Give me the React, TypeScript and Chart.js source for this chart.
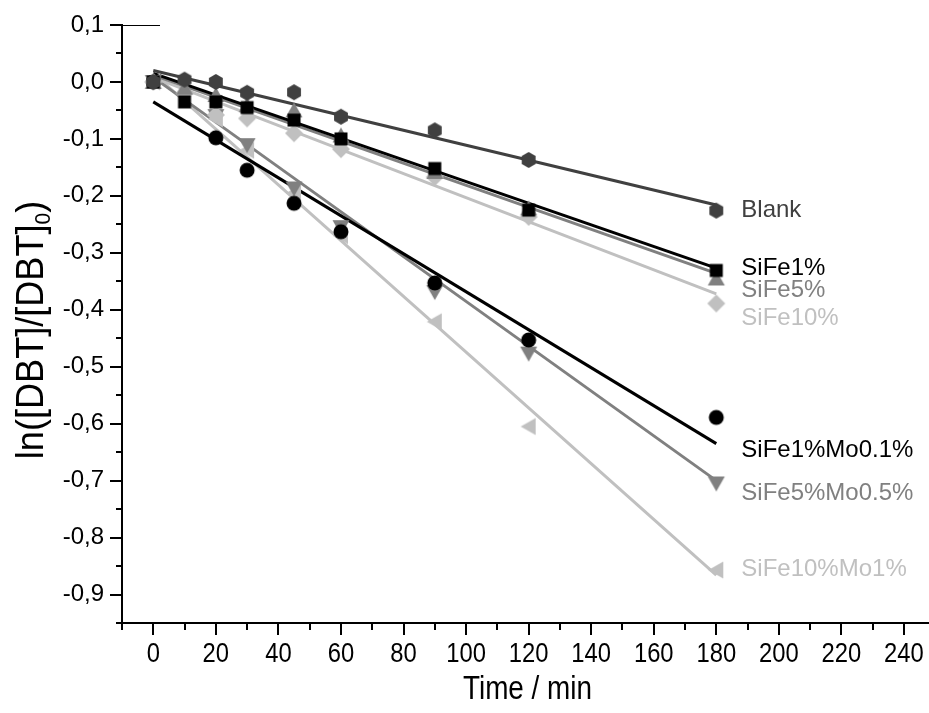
import React, { useEffect, useRef } from "react";
import { Chart, registerables } from "chart.js";
Chart.register(...registerables);

// ---- data ----
const timesFe = [0, 10, 20, 30, 45, 60, 90, 120, 180];
const timesMo = [0, 20, 30, 45, 60, 90, 120, 180];
const fitTimes = [0, 180];

const blankVals = [0, 0.004, 0, -0.019, -0.018, -0.061, -0.085, -0.137, -0.226];
const fe1Vals = [0, -0.035, -0.035, -0.045, -0.067, -0.1, -0.152, -0.225, -0.331];
const fe5Vals = [0, -0.01, -0.023, -0.041, -0.05, -0.094, -0.158, -0.222, -0.345];
const fe10Vals = [0, -0.02, -0.058, -0.064, -0.09, -0.118, -0.167, -0.237, -0.389];
const mo01Vals = [0, -0.098, -0.155, -0.213, -0.263, -0.353, -0.453, -0.589];
const mo05Vals = [0, -0.06, -0.111, -0.187, -0.255, -0.369, -0.477, -0.705];
const mo1Vals = [0, -0.065, -0.12, -0.195, -0.27, -0.421, -0.605, -0.857];

const blankFit = [0.02, -0.216];
const fe1Fit = [0.015, -0.327];
const fe5Fit = [0.012, -0.336];
const fe10Fit = [0.008, -0.372];
const mo01Fit = [-0.035, -0.635];
const mo05Fit = [0.008, -0.7];
const mo1Fit = [0.015, -0.866];

const seriesNames = ["Blank", "SiFe1%", "SiFe5%", "SiFe10%", "SiFe1%Mo0.1%", "SiFe5%Mo0.5%", "SiFe10%Mo1%"];
const labelValues = [-0.226, -0.327, -0.366, -0.415, -0.647, -0.722, -0.855];
const labelTime = 188;

const xMajorTicks = [0, 20, 40, 60, 80, 100, 120, 140, 160, 180, 200, 220, 240];
const xMinorTicks = [-10, 10, 30, 50, 70, 90, 110, 130, 150, 170, 190, 210, 230];
const yMajorTicks = [-0.9, -0.8, -0.7, -0.6, -0.5, -0.4, -0.3, -0.2, -0.1, 0, 0.1];
const yMinorTicks = [-0.95, -0.85, -0.75, -0.65, -0.55, -0.45, -0.35, -0.25, -0.15, -0.05, 0.05];
const yTickLabels = ["-0,9", "-0,8", "-0,7", "-0,6", "-0,5", "-0,4", "-0,3", "-0,2", "-0,1", "0,0", "0,1"];

// ---- styles ----
const C_DARK = "#404040";
const C_BLACK = "#000000";
const C_MID = "#808080";
const C_LIGHT = "#c0c0c0";
const colors = [C_DARK, C_BLACK, C_MID, C_LIGHT, C_BLACK, C_MID, C_LIGHT];
const SANS = '"Liberation Sans", Arial, sans-serif';

function marker(shape: string, color: string): HTMLCanvasElement {
  const s = 24;
  const c = document.createElement("canvas");
  c.width = s;
  c.height = s;
  const g = c.getContext("2d")!;
  g.fillStyle = color;
  const m = s / 2;
  g.beginPath();
  if (shape === "hex") {
    const r = 8;
    for (let i = 0; i < 6; i++) {
      const a = Math.PI / 2 + (i * Math.PI) / 3;
      const px = m + r * Math.cos(a);
      const py = m + r * Math.sin(a);
      if (i === 0) g.moveTo(px, py);
      else g.lineTo(px, py);
    }
    g.closePath();
  } else if (shape === "square") {
    g.rect(m - 6.5, m - 6.5, 13, 13);
  } else if (shape === "up") {
    g.moveTo(m, m - 8);
    g.lineTo(m + 8.5, m + 7);
    g.lineTo(m - 8.5, m + 7);
    g.closePath();
  } else if (shape === "down") {
    g.moveTo(m, m + 8);
    g.lineTo(m + 8.5, m - 7);
    g.lineTo(m - 8.5, m - 7);
    g.closePath();
  } else if (shape === "left") {
    g.moveTo(m - 8, m);
    g.lineTo(m + 7, m - 8.5);
    g.lineTo(m + 7, m + 8.5);
    g.closePath();
  } else if (shape === "diamond") {
    g.moveTo(m, m - 9);
    g.lineTo(m + 9, m);
    g.lineTo(m, m + 9);
    g.lineTo(m - 9, m);
    g.closePath();
  } else {
    g.arc(m, m, 7.5, 0, Math.PI * 2);
  }
  g.fill();
  return c;
}

function condText(ctx: CanvasRenderingContext2D, text: string, x: number, y: number, sx: number, align: CanvasTextAlign) {
  ctx.save();
  ctx.translate(x, y);
  ctx.scale(sx, 1);
  ctx.textAlign = align;
  ctx.textBaseline = "middle";
  ctx.fillText(text, 0, 0);
  ctx.restore();
}

const decorPlugin = {
  id: "decor",
  afterDraw(chart: any) {
    const ctx: CanvasRenderingContext2D = chart.ctx;
    const xs = chart.scales.x;
    const ys = chart.scales.y;
    const left = xs.left;
    const bottom = ys.bottom;
    ctx.save();
    ctx.strokeStyle = "#000";
    ctx.lineWidth = 2;
    ctx.beginPath();
    xMajorTicks.forEach((t) => {
      const p = Math.round(xs.getPixelForValue(t));
      ctx.moveTo(p, bottom);
      ctx.lineTo(p, bottom + 12);
    });
    xMinorTicks.forEach((t) => {
      const p = Math.round(xs.getPixelForValue(t));
      ctx.moveTo(p, bottom);
      ctx.lineTo(p, bottom + 7);
    });
    yMajorTicks.forEach((v) => {
      const p = Math.round(ys.getPixelForValue(v));
      ctx.moveTo(left, p);
      ctx.lineTo(left - 12, p);
    });
    yMinorTicks.forEach((v) => {
      const p = Math.round(ys.getPixelForValue(v));
      ctx.moveTo(left, p);
      ctx.lineTo(left - 6, p);
    });
    ctx.stroke();
    // short top line
    ctx.lineWidth = 1;
    ctx.beginPath();
    ctx.moveTo(left, ys.top + 0.5);
    ctx.lineTo(left + 38, ys.top + 0.5);
    ctx.stroke();

    // x tick labels (condensed)
    ctx.fillStyle = "#000";
    ctx.font = "28px " + SANS;
    xMajorTicks.forEach((t) => {
      condText(ctx, String(t), xs.getPixelForValue(t), bottom + 31, 0.85, "center");
    });
    // x title
    ctx.font = "34px " + SANS;
    condText(ctx, "Time / min", (xs.left + xs.right) / 2 + 2, 690, 0.82, "center");

    // y title with subscript
    ctx.save();
    ctx.translate(33, (ys.top + ys.bottom) / 2 + 6);
    ctx.rotate(-Math.PI / 2);
    ctx.scale(0.95, 1);
    ctx.textBaseline = "middle";
    ctx.textAlign = "left";
    const f1 = "38px " + SANS;
    const f2 = "22px " + SANS;
    const a = "ln([DBT]/[DBT]";
    const b = "0";
    const c = ")";
    ctx.font = f1;
    const wa = ctx.measureText(a).width;
    const wc = ctx.measureText(c).width;
    ctx.font = f2;
    const wb = ctx.measureText(b).width;
    const total = wa + wb + wc;
    let cx = -total / 2;
    ctx.font = f1;
    ctx.fillText(a, cx, 0);
    cx += wa;
    ctx.font = f2;
    ctx.fillText(b, cx, 11);
    cx += wb;
    ctx.font = f1;
    ctx.fillText(c, cx, 0);
    ctx.restore();

    // series labels
    ctx.font = "24px " + SANS;
    ctx.textAlign = "left";
    ctx.textBaseline = "middle";
    seriesNames.forEach((n, i) => {
      ctx.fillStyle = colors[i];
      ctx.fillText(n, xs.getPixelForValue(labelTime), ys.getPixelForValue(labelValues[i]));
    });
    ctx.restore();
  },
};

export default function App() {
  const ref = useRef<HTMLCanvasElement | null>(null);
  useEffect(() => {
    document.body.style.margin = "0";
    const canvas = ref.current!;
    const pts = (xsArr: number[], ysArr: number[]) => xsArr.map((x, i) => ({ x, y: ysArr[i] }));
    const shapes = ["hex", "square", "up", "diamond", "circle", "down", "left"];
    const vals = [blankVals, fe1Vals, fe5Vals, fe10Vals, mo01Vals, mo05Vals, mo1Vals];
    const tms = [timesFe, timesFe, timesFe, timesFe, timesMo, timesMo, timesMo];
    const fits = [blankFit, fe1Fit, fe5Fit, fe10Fit, mo01Fit, mo05Fit, mo1Fit];

    const datasets: any[] = [];
    fits.forEach((f, i) => {
      datasets.push({
        type: "line",
        label: seriesNames[i] + " fit",
        data: pts(fitTimes, f),
        borderColor: colors[i],
        borderWidth: 3,
        pointRadius: 0,
        showLine: true,
        fill: false,
        order: 2,
      });
    });
    vals.forEach((v, i) => {
      datasets.push({
        type: "scatter",
        label: seriesNames[i],
        data: pts(tms[i], v),
        pointStyle: marker(shapes[i], colors[i]),
        pointRadius: 9,
        showLine: false,
        order: 1,
      });
    });

    const chart = new Chart(canvas, {
      type: "scatter",
      data: { datasets },
      options: {
        responsive: false,
        animation: false,
        layout: { autoPadding: false, padding: { top: 25, left: 0, right: 0, bottom: 0 } },
        plugins: { legend: { display: false }, tooltip: { enabled: false } },
        scales: {
          x: {
            type: "linear",
            min: -10,
            max: 248,
            grid: { display: true, drawOnChartArea: false, drawTicks: false },
            border: { display: true, color: "#000", width: 2 },
            ticks: { display: false },
            afterFit: (s: any) => {
              s.height = 90;
            },
          },
          y: {
            type: "linear",
            min: -0.95,
            max: 0.1,
            grid: { display: true, drawOnChartArea: false, drawTicks: true, tickLength: 12, tickColor: "rgba(0,0,0,0)" },
            border: { display: true, color: "#000", width: 2 },
            afterBuildTicks: (s: any) => {
              s.ticks = yMajorTicks.map((v) => ({ value: v }));
            },
            ticks: {
              color: "#000",
              padding: 6,
              font: { family: SANS, size: 24 },
              callback: (_v: any, i: number) => yTickLabels[i],
            },
            afterFit: (s: any) => {
              s.width = 122;
            },
          },
        },
      },
      plugins: [decorPlugin],
    } as any);
    return () => chart.destroy();
  }, []);
  return <canvas ref={ref} width={929} height={713} style={{ display: "block", width: 929, height: 713 }} />;
}
